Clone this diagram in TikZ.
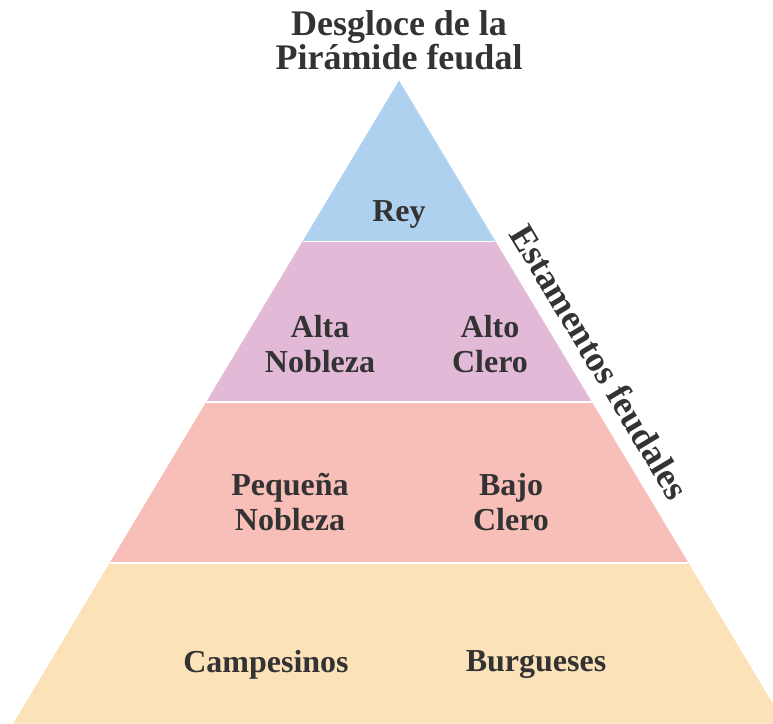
\documentclass[tikz,border=0pt]{standalone}
\usepackage{fontspec}
\setmainfont{Liberation Serif}
\usetikzlibrary{calc}
\definecolor{txt}{HTML}{333333}
\definecolor{reyc}{HTML}{AED1EF}
\definecolor{nobc}{HTML}{E2BAD7}
\definecolor{pequc}{HTML}{F8BFB8}
\definecolor{campc}{HTML}{FCE2B8}
\begin{document}
\begin{tikzpicture}[x=1pt,y=-1pt,
  lab/.style={text=txt,font=\fontsize{32}{35}\selectfont\bfseries,align=center,inner sep=0pt},
  big/.style={text=txt,font=\fontsize{36}{34}\selectfont\bfseries,align=center,inner sep=0pt},
  sep/.style={white,line width=1.5pt}]
\useasboundingbox (0,0) rectangle (773,723);
\clip (0,0) rectangle (773,723);
\coordinate (A) at (399,80.5);
\coordinate (L) at (13.2,723.5);
\coordinate (R) at (784.8,723.5);
\coordinate (L1) at ($(A)!0.25!(L)$);
\coordinate (R1) at ($(A)!0.25!(R)$);
\coordinate (L2) at ($(A)!0.5!(L)$);
\coordinate (R2) at ($(A)!0.5!(R)$);
\coordinate (L3) at ($(A)!0.75!(L)$);
\coordinate (R3) at ($(A)!0.75!(R)$);
\fill[reyc] (A) -- (L1) -- (R1) -- cycle;
\fill[nobc] (L1) -- (L2) -- (R2) -- (R1) -- cycle;
\fill[pequc] (L2) -- (L3) -- (R3) -- (R2) -- cycle;
\fill[campc] (L3) -- (L) -- (R) -- (R3) -- cycle;
\draw[sep] (L1) -- (R1);
\draw[sep] (L2) -- (R2);
\draw[sep] (L3) -- (R3);
\node[big] (title) at (399,40) {Desgloce de la\\Pirámide feudal};
\node[lab] (rey) at (399,214) {Rey};
\node[lab] (altan) at (320,344) {Alta\\Nobleza};
\node[lab] (altoc) at (490,344) {Alto\\Clero};
\node[lab] (pequn) at (290,502) {Pequeña\\Nobleza};
\node[lab] (bajoc) at (511,502) {Bajo\\Clero};
\node[lab] (camp) at (266,665) {Campesinos};
\node[lab] (burg) at (536,665) {Burgueses};
\node[big,rotate=-59] (est) at (600,362) {Estamentos feudales};
\end{tikzpicture}
\end{document}
